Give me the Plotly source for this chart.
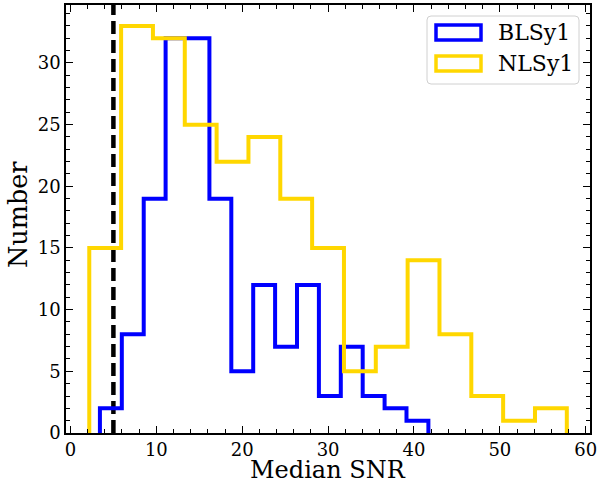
import numpy as np
import plotly.graph_objects as go

# BLSy1 histogram (15 bins)
bl_start, bl_end = 3.43, 41.68
bl_counts = [2, 8, 19, 32, 32, 19, 5, 12, 7, 12, 3, 7, 3, 2, 1]
# NLSy1 histogram (15 bins)
nl_start, nl_end = 2.19, 57.8
nl_counts = [15, 33, 32, 25, 22, 24, 19, 15, 5, 7, 14, 8, 3, 1, 2]
snr_cut = 5
names = ["BLSy1", "NLSy1"]
colors = ["#0000FF", "#FFD700"]
x_title, y_title = "Median SNR", "Number"

def step_xy(start, end, counts):
    edges = np.linspace(start, end, len(counts) + 1)
    xs = [edges[0]] + list(edges)
    ys = [0] + list(counts) + [0]
    return xs, ys

fig = go.Figure()
fig.add_trace(go.Scatter(x=[snr_cut, snr_cut], y=[0, 40], mode="lines",
                         line=dict(color="black", width=4.5, dash="13px,6px"),
                         showlegend=False, hoverinfo="skip"))
for (s, e, c), nm, col in zip([(bl_start, bl_end, bl_counts), (nl_start, nl_end, nl_counts)], names, colors):
    x, y = step_xy(s, e, c)
    fig.add_trace(go.Scatter(x=x, y=y, mode="lines", line_shape="hv",
                             line=dict(color=col, width=4), name=nm, showlegend=False))

font = "DejaVu Serif"
axis_common = dict(showline=True, linecolor="black", linewidth=1.5, mirror="allticks",
                   ticks="inside", ticklen=7, tickwidth=1.3, tickcolor="black",
                   showgrid=False, zeroline=False, ticklabeloverflow="allow", automargin=False,
                   tickfont=dict(family=font, size=18, color="black"))
fig.update_xaxes(range=[-0.52, 60.5], dtick=10, tick0=0,
                 minor=dict(dtick=2, ticks="inside", ticklen=4, tickcolor="black", tickwidth=1),
                 **axis_common)
fig.update_yaxes(range=[0, 34.7], dtick=5, tick0=0,
                 minor=dict(dtick=1, ticks="inside", ticklen=4, tickcolor="black", tickwidth=1),
                 **axis_common)

# layout in page pixels
W, H = 597, 484
ml, mr, mt, mb = 66, 7, 5, 51
pw, ph = W - ml - mr, H - mt - mb
px = lambda v: (v - ml) / pw
py = lambda v: 1 - (v - mt) / ph

annotations = [
    dict(xref="paper", yref="paper", x=px(328), y=py(470), text=x_title, showarrow=False,
         xanchor="center", yanchor="middle", font=dict(family=font, size=24, color="black")),
    dict(xref="paper", yref="paper", x=px(18), y=py(215), text=y_title, showarrow=False,
         textangle=-90, xanchor="center", yanchor="middle", font=dict(family=font, size=25.5, color="black")),
]

# manual legend (matplotlib-style patch legend)
bx0, bx1, by0, by1 = 427, 579, 16, 84
rx, ry = 4 / pw, 4 / ph
X0, X1, Y0, Y1 = px(bx0), px(bx1), py(by0), py(by1)
path = (f"M{X0+rx},{Y0} L{X1-rx},{Y0} Q{X1},{Y0} {X1},{Y0-ry} L{X1},{Y1+ry} Q{X1},{Y1} {X1-rx},{Y1} "
        f"L{X0+rx},{Y1} Q{X0},{Y1} {X0},{Y1+ry} L{X0},{Y0-ry} Q{X0},{Y0} {X0+rx},{Y0} Z")
shapes = [dict(type="path", xref="paper", yref="paper", path=path,
               line=dict(color="#d0d0d0", width=1), fillcolor="rgba(255,255,255,0.8)")]
for i, (nm, col) in enumerate(zip(names, colors)):
    cy = 32.5 + i * 31
    shapes.append(dict(type="rect", xref="paper", yref="paper",
                       x0=px(436), x1=px(481), y0=py(cy - 7.5), y1=py(cy + 7.5),
                       line=dict(color=col, width=3.5), fillcolor="rgba(0,0,0,0)"))
    annotations.append(dict(xref="paper", yref="paper", x=px(496), y=py(cy), text=nm,
                            showarrow=False, xanchor="left", yanchor="middle",
                            font=dict(family=font, size=22, color="black")))

fig.update_layout(width=W, height=H, plot_bgcolor="white", paper_bgcolor="white",
                  margin=dict(l=ml, r=mr, t=mt, b=mb), showlegend=False,
                  shapes=shapes, annotations=annotations)
fig.write_html("out.html")
